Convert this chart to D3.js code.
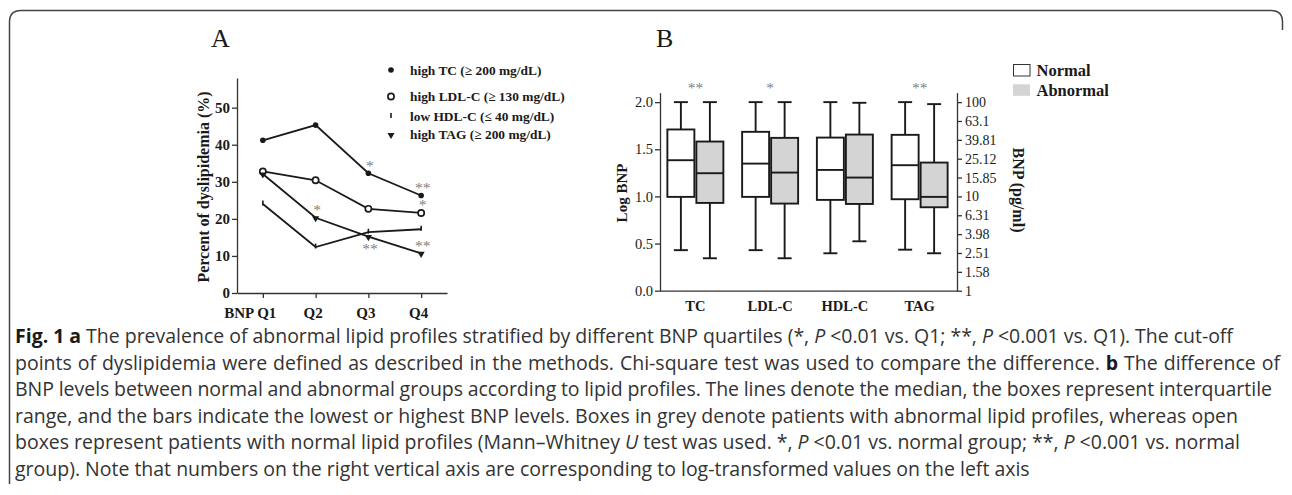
<!DOCTYPE html>
<html>
<head>
<meta charset="utf-8">
<script src="https://cdn.jsdelivr.net/npm/d3@7"></script>
<style>
  body { margin: 0; background: #fff; }
  svg { display: block; }
  .serif { font-family: "Liberation Serif", "Times New Roman", serif; }
</style>
</head>
<body>
<svg id="fig" width="1292" height="495"></svg>
<script>
// ---- panel A: % dyslipidemia by BNP quartile
var quartiles = ["Q1", "Q2", "Q3", "Q4"];
var quartileLabels = ["BNP Q1", "Q2", "Q3", "Q4"];
var tcPct  = [41.2, 45.3, 32.3, 26.3];
var ldlPct = [32.8, 30.4, 22.7, 21.6];
var hdlPct = [24.0, 12.4, 16.4, 17.2];
var tagPct = [32.1, 20.3, 15.2, 10.7];
var pctTicks = [0, 10, 20, 30, 40, 50];
var legendA = ["high TC (\u2265 200 mg/dL)", "high LDL-C (\u2265 130 mg/dL)",
               "low HDL-C (\u2264 40 mg/dL)", "high TAG (\u2265 200 mg/dL)"];
// significance vs Q1: series, quartile, mark, side of the point
var sigA = [
  ["tc", "Q3", "*", "above"], ["tc", "Q4", "**", "above"],
  ["ldl", "Q4", "*", "above"],
  ["tag", "Q2", "*", "above"], ["tag", "Q3", "**", "below"], ["tag", "Q4", "**", "above"]
];

// ---- panel B: log BNP box plots, [min, q1, median, q3, max]
var lipids = ["TC", "LDL-C", "HDL-C", "TAG"];
var normalBoxes = [
  [0.43, 0.995, 1.384, 1.71, 2.0],
  [0.43, 0.995, 1.348, 1.685, 2.0],
  [0.397, 0.963, 1.281, 1.624, 2.0],
  [0.435, 0.97, 1.331, 1.653, 2.0]
];
var abnormalBoxes = [
  [0.344, 0.931, 1.246, 1.582, 2.0],
  [0.344, 0.924, 1.253, 1.621, 2.0],
  [0.524, 0.92, 1.2, 1.656, 1.993],
  [0.397, 0.885, 0.995, 1.359, 1.979]
];
var logTicks = [0, 0.5, 1.0, 1.5, 2.0];
var bnpTicks = [0, 0.2, 0.4, 0.6, 0.8, 1.0, 1.2, 1.4, 1.6, 1.8, 2.0];
var bnpLabels = ["1", "1.58", "2.51", "3.98", "6.31", "10", "15.85", "25.12", "39.81", "63.1", "100"];
var sigB = ["**", "*", "", "**"];
var legendB = ["Normal", "Abnormal"];

var captionLines = [
  [["b", "Fig. 1 a"], ["n", " The prevalence of abnormal lipid profiles stratified by different BNP quartiles (*, "], ["i", "P"], ["n", " <0.01 vs. Q1; **, "], ["i", "P"], ["n", " <0.001 vs. Q1). The cut-off"]],
  [["n", "points of dyslipidemia were defined as described in the methods. Chi-square test was used to compare the difference. "], ["b", "b"], ["n", " The difference of"]],
  [["n", "BNP levels between normal and abnormal groups according to lipid profiles. The lines denote the median, the boxes represent interquartile"]],
  [["n", "range, and the bars indicate the lowest or highest BNP levels. Boxes in grey denote patients with abnormal lipid profiles, whereas open"]],
  [["n", "boxes represent patients with normal lipid profiles (Mann\u2013Whitney "], ["i", "U"], ["n", " test was used. *, "], ["i", "P"], ["n", " <0.01 vs. normal group; **, "], ["i", "P"], ["n", " <0.001 vs. normal"]],
  [["n", "group). Note that numbers on the right vertical axis are corresponding to log-transformed values on the left axis"]]
];
var captionEnds = [1233, 1280, 1272, 1238, 1240, null];

var svg = d3.select("#fig");
var ink = "#1a1a1a", axisInk = "#333", starInk = "#808080", grey = "#d4d4d4";

// card border
svg.append("path")
  .attr("d", "M9.5,484 V22 Q9.5,10.5 21,10.5 H1271 Q1282.5,10.5 1282.5,22 V30")
  .attr("fill", "none").attr("stroke", "#444").attr("stroke-width", 1.5);

function styleAxis(g, size, weight) {
  g.attr("font-family", null).attr("font-size", size).attr("font-weight", weight);
  g.selectAll("path,line").attr("stroke", axisInk).attr("stroke-width", 1.3);
  g.selectAll("text").attr("fill", ink);
}

/* ================= panel A ================= */
var A = svg.append("g").attr("class", "serif");
var xA = d3.scalePoint().domain(quartiles).range([237, 447]).padding(0.49);
var yA = d3.scaleLinear().domain([0, 58]).range([293, 78]);

A.append("text").attr("x", 211).attr("y", 46.5).attr("font-size", 26).attr("fill", ink).text("A");

A.append("g").attr("transform", "translate(237,0)")
  .call(d3.axisLeft(yA).tickValues(pctTicks).tickSize(5).tickSizeOuter(0).tickPadding(2))
  .call(styleAxis, 15, "bold");

var xAxisA = A.append("g").attr("transform", "translate(0,293)")
  .call(d3.axisBottom(xA).tickSize(5).tickSizeOuter(0).tickPadding(9)
        .tickFormat((d, i) => quartileLabels[i]))
  .call(styleAxis, 15, "bold");
xAxisA.selectAll(".tick text")
  .attr("dx", (d, i) => i === 0 ? 13 : -3)
  .attr("text-anchor", (d, i) => i === 0 ? "end" : "middle");

A.append("text")
  .attr("transform", "translate(208.5,187) rotate(-90)")
  .attr("text-anchor", "middle").attr("font-size", 16).attr("font-weight", "bold")
  .attr("fill", ink).text("Percent of dyslipidemia (%)");

var seriesA = [
  { key: "tc", values: tcPct, marker: "dot" },
  { key: "ldl", values: ldlPct, marker: "ring" },
  { key: "hdl", values: hdlPct, marker: "tick" },
  { key: "tag", values: tagPct, marker: "tri" }
];
var lineA = d3.line().x((d, i) => xA(quartiles[i])).y(d => yA(d));

function drawMarker(g, type, x, y) {
  if (type === "dot") {
    g.append("circle").attr("cx", x).attr("cy", y).attr("r", 2.8).attr("fill", ink);
  } else if (type === "ring") {
    g.append("circle").attr("cx", x).attr("cy", y).attr("r", 3.1)
      .attr("fill", "#fff").attr("stroke", ink).attr("stroke-width", 1.7);
  } else if (type === "tick") {
    g.append("line").attr("x1", x).attr("x2", x).attr("y1", y - 3.5).attr("y2", y + 1.5)
      .attr("stroke", ink).attr("stroke-width", 1.6);
  } else {
    g.append("path").attr("d", d3.symbol(d3.symbolTriangle, 22)())
      .attr("transform", "translate(" + x + "," + (y + 0.5) + ") rotate(180)").attr("fill", ink);
  }
}

seriesA.forEach(function (s) {
  A.append("path").datum(s.values).attr("d", lineA)
    .attr("fill", "none").attr("stroke", ink).attr("stroke-width", 1.8);
});
seriesA.forEach(function (s) {
  s.values.forEach((v, i) => drawMarker(A, s.marker, xA(quartiles[i]), yA(v)));
});

sigA.forEach(function (d) {
  var s = seriesA.find(e => e.key === d[0]);
  var v = s.values[quartiles.indexOf(d[1])];
  var cy = yA(v) + (d[3] === "above" ? -10 : 10);
  A.append("text").attr("x", xA(d[1]) + 1.5).attr("y", cy + 7.5)
    .attr("text-anchor", "middle").attr("font-size", 15.5).attr("fill", starInk).text(d[2]);
});

// legend A
var legA = A.append("g");
var legRowsY = [70, 96.5, 116.5, 134.5];
legendA.forEach(function (t, i) {
  drawMarker(legA, seriesA[i].marker, 391, legRowsY[i]);
  legA.append("text").attr("x", 410).attr("y", legRowsY[i] + 4.8)
    .attr("font-size", 13.4).attr("font-weight", "bold").attr("fill", ink).text(t);
});

/* ================= panel B ================= */
var B = svg.append("g").attr("class", "serif");
var xB = d3.scaleBand().domain(lipids).range([658, 957]);
var yB = d3.scaleLinear().domain([0, 2.1]).range([290.7, 92.7]);

B.append("text").attr("x", 656).attr("y", 46.5).attr("font-size", 26).attr("fill", ink).text("B");

B.append("g").attr("transform", "translate(660,0)")
  .call(d3.axisLeft(yB).tickValues(logTicks).tickSize(5).tickSizeOuter(0).tickPadding(2)
        .tickFormat(d3.format(".1f")))
  .call(styleAxis, 14.5, "normal");

B.append("g").attr("transform", "translate(957,0)")
  .call(d3.axisRight(yB).tickValues(bnpTicks).tickSize(5).tickSizeOuter(0).tickPadding(3)
        .tickFormat((d, i) => bnpLabels[i]))
  .call(styleAxis, 14, "normal");

var xAxisB = B.append("g").attr("transform", "translate(0,290.7)")
  .call(d3.axisBottom(xB).tickSize(0).tickSizeOuter(0).tickPadding(10.5))
  .call(styleAxis, 14.5, "bold");
xAxisB.select(".domain").attr("d", "M660,0.5H957");

B.append("text")
  .attr("transform", "translate(626.5,193) rotate(-90)")
  .attr("text-anchor", "middle").attr("font-size", 15).attr("font-weight", "bold")
  .attr("fill", ink).text("Log BNP");
B.append("text")
  .attr("transform", "translate(1013,190) rotate(90)")
  .attr("text-anchor", "middle").attr("font-size", 16).attr("font-weight", "bold")
  .attr("fill", ink).text("BNP (pg/ml)");

var boxW = 27, capW = 14;
function drawBox(stats, cx, fill) {
  var g = B.append("g").attr("stroke", ink).attr("stroke-width", 1.9);
  g.append("line").attr("x1", cx).attr("x2", cx).attr("y1", yB(stats[0])).attr("y2", yB(stats[4]));
  [stats[0], stats[4]].forEach(v =>
    g.append("line").attr("x1", cx - capW / 2).attr("x2", cx + capW / 2).attr("y1", yB(v)).attr("y2", yB(v)));
  g.append("rect").attr("x", cx - boxW / 2).attr("y", yB(stats[3]))
    .attr("width", boxW).attr("height", yB(stats[1]) - yB(stats[3])).attr("fill", fill);
  g.append("line").attr("x1", cx - boxW / 2).attr("x2", cx + boxW / 2)
    .attr("y1", yB(stats[2])).attr("y2", yB(stats[2]));
}
lipids.forEach(function (c, i) {
  var mid = xB(c) + xB.bandwidth() / 2;
  drawBox(normalBoxes[i], mid - 14.5, "#fff");
  drawBox(abnormalBoxes[i], mid + 14.5, grey);
  if (sigB[i]) {
    B.append("text").attr("x", mid).attr("y", 93).attr("text-anchor", "middle")
      .attr("font-size", 15.5).attr("fill", starInk).text(sigB[i]);
  }
});

// legend B
var legB = B.append("g");
legB.append("rect").attr("x", 1013.5).attr("y", 64.5).attr("width", 16.5).attr("height", 11.5)
  .attr("fill", "#fff").attr("stroke", "#333").attr("stroke-width", 1);
legB.append("rect").attr("x", 1013).attr("y", 84.3).attr("width", 17).attr("height", 11.5)
  .attr("fill", grey);
legendB.forEach(function (t, i) {
  legB.append("text").attr("x", 1036.5).attr("y", 75.8 + i * 19.8)
    .attr("font-size", 16.5).attr("font-weight", "bold").attr("fill", ink).text(t);
});

/* ================= caption ================= */
var cap = svg.append("g").attr("font-family", "'Open Sans', 'Noto Sans', sans-serif").attr("fill", "#333");
var capX = 15, capY0 = 343, capStep = 26.6;
var capNodes = captionLines.map(function (parts, li) {
  var t = cap.append("text").attr("x", capX).attr("y", capY0 + li * capStep)
    .attr("font-size", 16).style("white-space", "pre");
  parts.forEach(function (p) {
    var ts = t.append("tspan").text(p[1]);
    if (p[0] === "b") ts.attr("font-weight", "bold").attr("fill", "#1a1a1a");
    if (p[0] === "i") ts.attr("font-style", "italic");
  });
  return t;
});
// fit font size on the unjustified last line, then justify the rest with word spacing
var lastW = capNodes[5].node().getComputedTextLength();
var capSize = 16 * (1030 - capX) / lastW;
capNodes.forEach(function (t, li) {
  t.attr("font-size", capSize);
  if (captionEnds[li] == null) return;
  var w = t.node().getComputedTextLength();
  var spaces = t.text().split(" ").length - 1;
  t.style("word-spacing", ((captionEnds[li] - capX - w) / spaces) + "px");
});
</script>
</body>
</html>
